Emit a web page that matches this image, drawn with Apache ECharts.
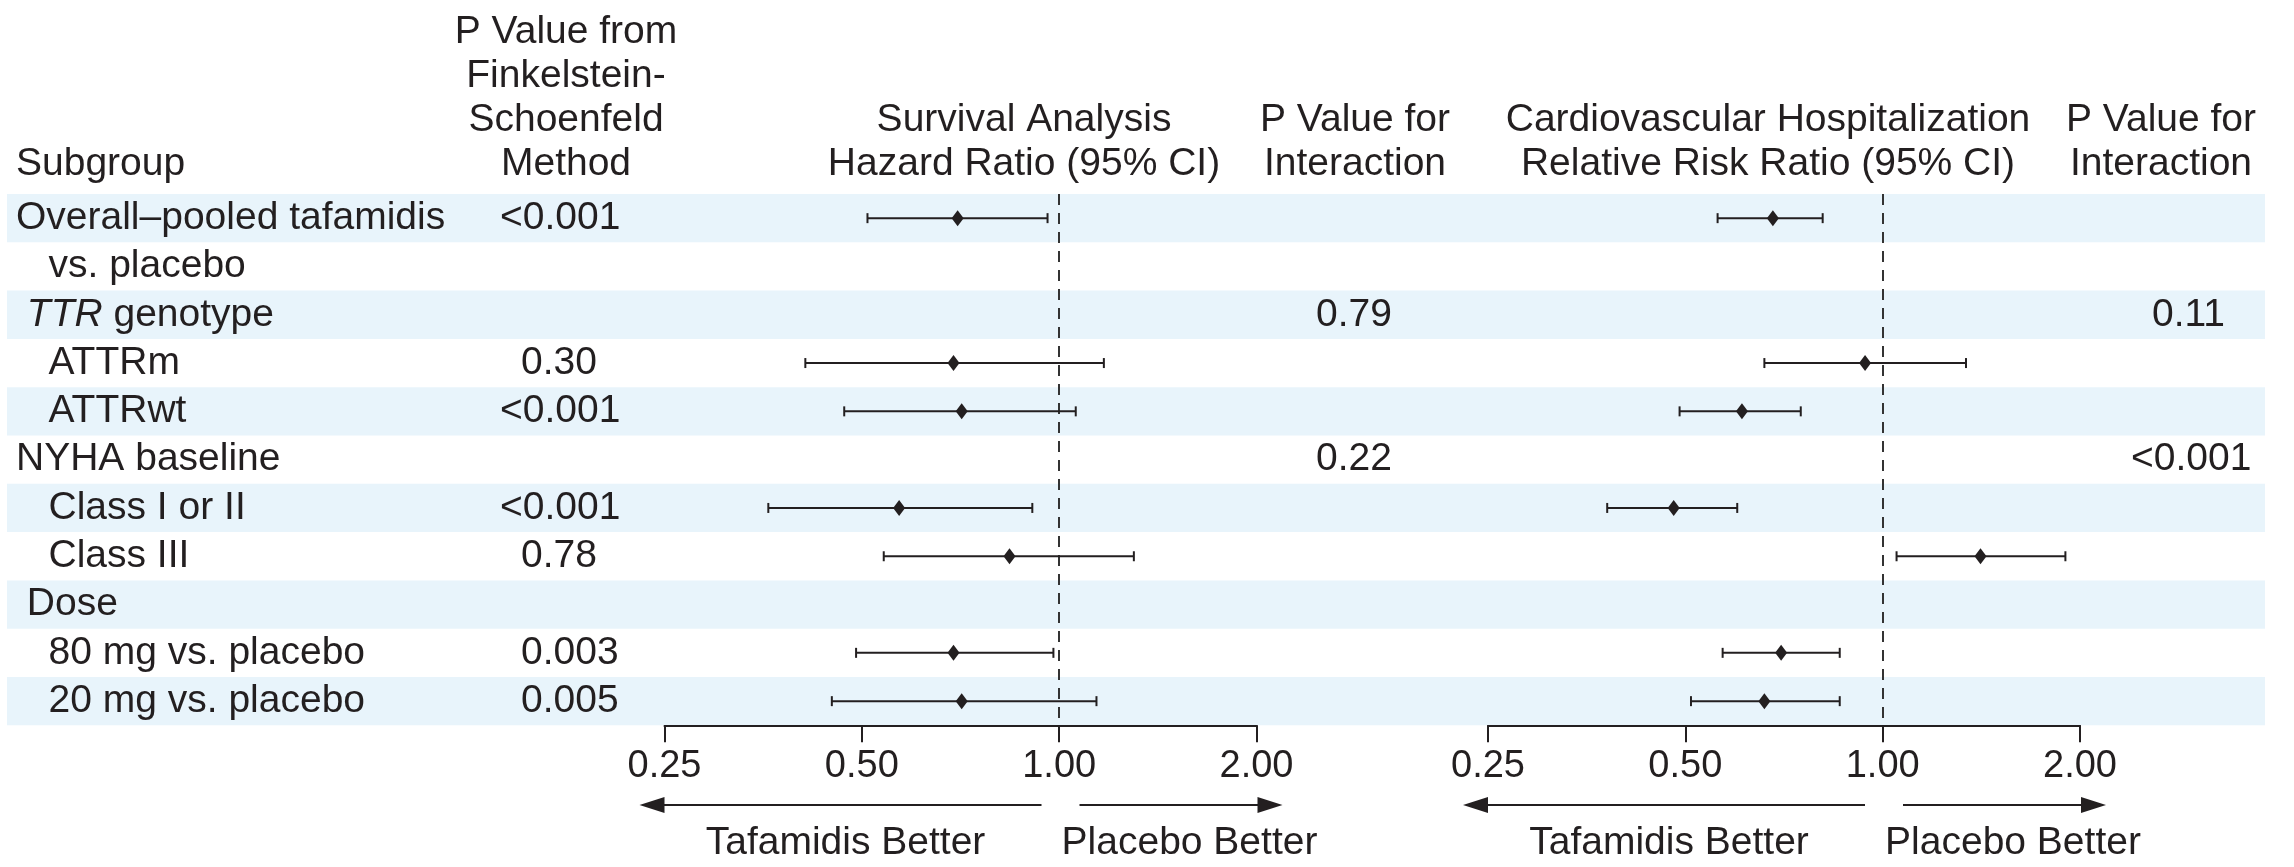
<!DOCTYPE html>
<html>
<head>
<meta charset="utf-8">
<title>Tafamidis subgroup forest plot</title>
<script src="https://cdn.jsdelivr.net/npm/echarts@6/dist/echarts.min.js"></script>
<style>
  html, body { margin: 0; padding: 0; background: #fff; }
  #chart { width: 2294px; height: 867px; }
</style>
</head>
<body>
<div id="chart"></div>
<script>
// rows of the table (leading spaces = indentation in the original)
const rowLabels = ['Overall\u2013pooled tafamidis', '   vs. placebo', ' TTR genotype', '   ATTRm', '   ATTRwt',
  'NYHA baseline', '   Class I or II', '   Class III', ' Dose', '   80 mg vs. placebo', '   20 mg vs. placebo'];
const pFinkelstein = ['<0.001', '', '', '0.30', '<0.001', '', '<0.001', '0.78', '', '0.003', '0.005'];
const pInterSurvival = ['', '', '0.79', '', '', '0.22', '', '', '', '', ''];
const pInterHosp = ['', '', '0.11', '', '', '<0.001', '', '', '', '', ''];

// survival: hazard ratio (95% CI)
const hr = [0.70, null, null, 0.69, 0.71, null, 0.57, 0.84, null, 0.69, 0.71];
const hrLow = [0.51, null, null, 0.41, 0.47, null, 0.36, 0.54, null, 0.49, 0.45];
const hrHigh = [0.96, null, null, 1.17, 1.06, null, 0.91, 1.30, null, 0.98, 1.14];

// cv hospitalization: relative risk ratio (95% CI)
const rr = [0.68, null, null, 0.94, 0.61, null, 0.48, 1.41, null, 0.70, 0.66];
const rrLow = [0.56, null, null, 0.66, 0.49, null, 0.38, 1.05, null, 0.57, 0.51];
const rrHigh = [0.81, null, null, 1.34, 0.75, null, 0.60, 1.90, null, 0.86, 0.86];

const tickValues = [0.25, 0.5, 1, 2];

const ink = '#231f20';
const band = '#e8f4fb';
const fontFam = '"Liberation Sans", Arial, Helvetica, sans-serif';
const font = '39px ' + fontFam;

const chart = echarts.init(document.getElementById('chart'));

const gridTop = 194;
const gridH = 48.3 * rowLabels.length;
const panelL = 664.5, panelR = 1488, panelW = 592;

function forestData(pt, lo, hi) {
  const out = [];
  for (let i = 0; i < pt.length; i++) {
    if (pt[i] != null) out.push([lo[i], hi[i], pt[i], i]);
  }
  return out;
}

function renderCI(params, api) {
  const y = api.value(3);
  const a = api.coord([api.value(0), y]);
  const b = api.coord([api.value(1), y]);
  const p = api.coord([api.value(2), y]);
  const st = { stroke: ink, lineWidth: 2 };
  const cap = 5;
  return {
    type: 'group',
    children: [
      { type: 'line', shape: { x1: a[0], y1: a[1], x2: b[0], y2: b[1] }, style: st },
      { type: 'line', shape: { x1: a[0], y1: a[1] - cap, x2: a[0], y2: a[1] + cap }, style: st },
      { type: 'line', shape: { x1: b[0], y1: b[1] - cap, x2: b[0], y2: b[1] + cap }, style: st },
      { type: 'polygon', shape: { points: [[p[0], p[1] - 8], [p[0] + 6, p[1]], [p[0], p[1] + 8], [p[0] - 6, p[1]]] },
        style: { fill: ink } }
    ]
  };
}

// text column drawn in the full-width grid; x is a pixel position
function textColumn(texts, x, hang) {
  const data = [];
  const strs = [];
  texts.forEach((t, i) => {
    if (t !== '') { data.push([x - (hang && t[0] === '<' ? 21 : 0), i]); strs.push(t); }
  });
  return {
    type: 'custom', xAxisIndex: 2, yAxisIndex: 2, silent: true, z: 5,
    data: data,
    renderItem: (params, api) => {
      const c = api.coord([api.value(0), api.value(1)]);
      const t = strs[params.dataIndex].replace(/^(\s*)TTR/, '$1{it|TTR}');
      return {
        type: 'text', x: c[0], y: c[1],
        style: { text: t, font: font, fill: ink, textAlign: 'left', textVerticalAlign: 'middle',
          rich: { it: { fontStyle: 'italic', fontSize: 39, fontFamily: fontFam, color: ink } } }
      };
    }
  };
}

function logAxis(gridIndex) {
  return {
    type: 'log', logBase: 2, gridIndex: gridIndex, min: 0.25, max: 2, position: 'bottom',
    axisLine: { show: true, onZero: false, lineStyle: { color: ink, width: 2 } },
    axisTick: { show: true, inside: false, length: 17, customValues: tickValues, lineStyle: { color: ink, width: 2 } },
    axisLabel: { show: true, customValues: tickValues, margin: 22, fontSize: 38, fontFamily: fontFam, color: ink,
      formatter: v => Number(v).toFixed(2) },
    splitLine: { show: false },
    minorTick: { show: false }
  };
}

function rowAxis(gridIndex) {
  return { type: 'value', gridIndex: gridIndex, inverse: true, min: -0.5, max: rowLabels.length - 0.5, show: false };
}

const dashed = {
  silent: true, symbol: 'none', label: { show: false },
  lineStyle: { color: '#333', type: [11, 8], width: 2 },
  data: [{ xAxis: 1 }]
};

// header text and arrows
const graphics = [];
function txt(s, x, y, align) {
  graphics.push({ type: 'text', x: x, y: y, silent: true,
    style: { text: s, font: font, fill: ink, textAlign: align || 'center', textVerticalAlign: 'middle' } });
}
txt('Subgroup', 16, 164, 'left');
txt('P Value from', 566, 32);
txt('Finkelstein-', 566, 76);
txt('Schoenfeld', 566, 120);
txt('Method', 566, 164);
txt('Survival Analysis', 1024, 120);
txt('Hazard Ratio (95% CI)', 1024, 164);
txt('P Value for', 1355, 120);
txt('Interaction', 1355, 164);
txt('Cardiovascular Hospitalization', 1768, 120);
txt('Relative Risk Ratio (95% CI)', 1768, 164);
txt('P Value for', 2161, 120);
txt('Interaction', 2161, 164);

[panelL, panelR].forEach(x0 => {
  const ay = 805;
  graphics.push({ type: 'line', silent: true, shape: { x1: x0 - 4, y1: ay, x2: x0 + 377, y2: ay }, style: { stroke: ink, lineWidth: 2 } });
  graphics.push({ type: 'polygon', silent: true, shape: { points: [[x0 - 25, ay], [x0, ay - 8], [x0, ay + 8]] }, style: { fill: ink } });
  graphics.push({ type: 'line', silent: true, shape: { x1: x0 + 415, y1: ay, x2: x0 + 597, y2: ay }, style: { stroke: ink, lineWidth: 2 } });
  graphics.push({ type: 'polygon', silent: true, shape: { points: [[x0 + 618, ay], [x0 + 593, ay - 8], [x0 + 593, ay + 8]] }, style: { fill: ink } });
  txt('Tafamidis Better', x0 + 181, 843);
  txt('Placebo Better', x0 + 525, 843);
});

const option = {
  animation: false,
  backgroundColor: '#fff',
  grid: [
    { left: panelL, width: panelW, top: gridTop, height: gridH },
    { left: panelR, width: panelW, top: gridTop, height: gridH },
    { left: 0, right: 0, top: gridTop, height: gridH }
  ],
  xAxis: [
    logAxis(0),
    logAxis(1),
    { type: 'value', gridIndex: 2, min: 0, max: 2294, show: false }
  ],
  yAxis: [rowAxis(0), rowAxis(1), rowAxis(2)],
  graphic: { elements: graphics },
  series: [
    {
      // alternating shaded rows
      type: 'custom', xAxisIndex: 2, yAxisIndex: 2, silent: true, z: 0,
      data: rowLabels.map((_, i) => [0, i]).filter(d => d[1] % 2 === 0),
      renderItem: (params, api) => {
        const c = api.coord([7, api.value(1)]);
        const h = api.size([0, 1])[1];
        const e = api.coord([2265, api.value(1)]);
        return { type: 'rect', shape: { x: c[0], y: c[1] - h / 2, width: e[0] - c[0], height: h }, style: { fill: band } };
      }
    },
    textColumn(rowLabels, 16, false),
    textColumn(pFinkelstein, 521, true),
    textColumn(pInterSurvival, 1316, true),
    textColumn(pInterHosp, 2152, true),
    {
      name: 'Survival', type: 'custom', xAxisIndex: 0, yAxisIndex: 0, z: 10,
      encode: { x: [0, 1, 2], y: 3 },
      data: forestData(hr, hrLow, hrHigh),
      renderItem: renderCI,
      markLine: dashed
    },
    {
      name: 'CV hospitalization', type: 'custom', xAxisIndex: 1, yAxisIndex: 1, z: 10,
      encode: { x: [0, 1, 2], y: 3 },
      data: forestData(rr, rrLow, rrHigh),
      renderItem: renderCI,
      markLine: dashed
    }
  ]
};

chart.setOption(option);
window.onresize = function () { chart.resize(); };
</script>
</body>
</html>
